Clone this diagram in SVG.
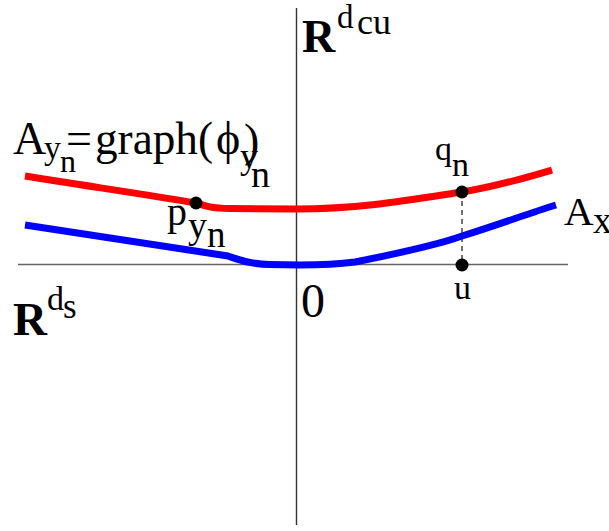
<svg xmlns="http://www.w3.org/2000/svg" width="609" height="531" viewBox="0 0 609 531">
<style>
.axis{stroke:#555;stroke-width:1.4;fill:none}
.crv{fill:none;stroke-width:7;stroke-linecap:butt;stroke-linejoin:round}
.t{font-family:"Liberation Serif","Times New Roman",serif;fill:#000}
.b{font-family:"Liberation Serif","Times New Roman",serif;font-weight:bold;fill:#000}
.dot{fill:#000}
</style>
<rect width="609" height="531" fill="#fff"/>
<g id="connectors">
<line class="axis" x1="18" y1="264.5" x2="568" y2="264.5" style="stroke:#666"/>
<line class="axis" x1="296.5" y1="8" x2="296.5" y2="525" style="stroke:#333"/>
<line x1="462" y1="192" x2="462" y2="265" stroke="#000" stroke-width="1.1" stroke-dasharray="5,4"/>
<path id="graph-curve" class="crv" stroke="#ff0000" d="M25,176 C80,185 150,195 196,203 C205,206 210,208 230,208.5 L296,209 C360,209 410,200 462,192 C495,187 525,178 552,170"/>
<path id="ax-curve" class="crv" stroke="#0000ff" d="M25,225 C100,237 170,247 228,256 C240,260 250,264 270,264.5 L300,265 C320,265 340,264 355,262 C400,253 440,244 462,236 C500,224 530,213 556,205"/>
</g>
<g id="p-dot"><circle class="dot" cx="196" cy="203" r="6.5"/></g>
<g id="q-dot"><circle class="dot" cx="462" cy="192" r="6.5"/></g>
<g id="u-dot"><circle class="dot" cx="462" cy="265" r="6.5"/></g>
<g id="label-rdcu">
<text class="b" x="302" y="52" font-size="46">R</text>
<text class="t" x="337" y="28" font-size="33">d</text>
<text class="t" x="357" y="34" font-size="36">cu</text>
</g>
<g id="label-rds">
<text class="b" x="13" y="335" font-size="47">R</text>
<text class="t" x="47" y="310" font-size="34">d</text>
<text class="t" x="63" y="318" font-size="35">s</text>
</g>
<g id="label-graph">
<text class="t" x="13" y="154" font-size="46">A</text>
<text class="t" x="44" y="159" font-size="34">y</text>
<text class="t" x="60" y="172" font-size="32">n</text>
<text class="t" x="66" y="154" font-size="46">=</text>
<text class="t" x="95" y="154" font-size="46" textLength="118" lengthAdjust="spacingAndGlyphs">graph(</text>
<text class="t" x="216" y="154" font-size="46">ϕ</text>
<text class="t" x="240" y="168" font-size="36">y</text>
<text class="t" x="244" y="156" font-size="46">)</text>
<text class="t" x="251" y="187" font-size="38">n</text>
</g>
<g id="label-p">
<text class="t" x="167" y="225" font-size="40">p</text>
<text class="t" x="188" y="238" font-size="38">y</text>
<text class="t" x="207" y="247" font-size="37">n</text>
</g>
<g id="label-q">
<text class="t" x="435" y="160" font-size="34">q</text>
<text class="t" x="452" y="176" font-size="34">n</text>
</g>
<g id="label-u"><text class="t" x="454" y="299" font-size="34">u</text></g>
<g id="label-0"><text class="t" x="301" y="317" font-size="48">0</text></g>
<g id="label-ax">
<text class="t" x="564" y="225" font-size="41">A</text>
<text class="t" x="593" y="233" font-size="38">x</text>
</g>
</svg>
